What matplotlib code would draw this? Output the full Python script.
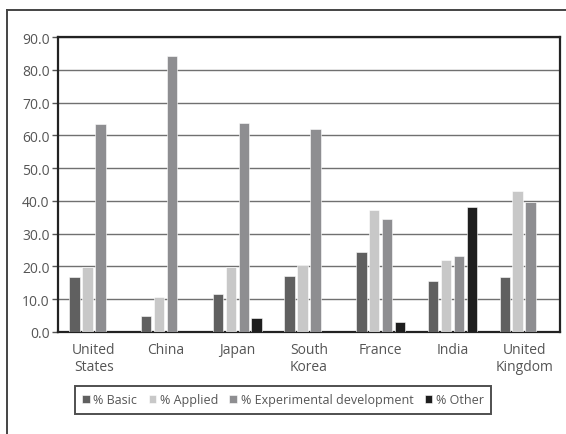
import matplotlib.pyplot as plt
import numpy as np
from matplotlib.lines import Line2D

countries = ['United\nStates', 'China', 'Japan', 'South\nKorea', 'France', 'India', 'United\nKingdom']
basic = [16.7, 5.0, 11.6, 17.0, 24.5, 15.7, 16.7]
applied = [19.7, 10.8, 19.9, 20.4, 37.3, 22.1, 42.9]
experimental = [63.4, 84.3, 63.7, 61.9, 34.5, 23.1, 39.6]
other = [0.0, 0.0, 4.2, 0.0, 3.1, 38.1, 0.0]

series = [
    ('% Basic', basic, '#606060'),
    ('% Applied', applied, '#c8c8c8'),
    ('% Experimental development', experimental, '#8e8e91'),
    ('% Other', other, '#1e1e1e'),
]

plt.rcParams['font.family'] = ['Open Sans', 'DejaVu Sans']

fig = plt.figure(figsize=(5.66, 4.35), dpi=100)
ax = fig.add_axes([58 / 566, 1 - 333 / 435, 502 / 566, 295 / 435])

x = np.arange(len(countries))
w = 0.145
step = 0.18
for i, (name, vals, col) in enumerate(series):
    ax.bar(x + (i - 1.5) * step, vals, width=w, color=col, label=name,
           edgecolor='white', linewidth=0.4, zorder=3)

ax.set_xlim(-0.5, len(countries) - 0.5)
ax.set_ylim(0, 90)
ax.set_yticks(np.arange(0, 91, 10))
ax.set_yticklabels([f'{v:.1f}' for v in np.arange(0, 91, 10)])
ax.set_xticks(x)
ax.set_xticklabels(countries, linespacing=1.25)
ax.tick_params(axis='y', labelsize=10, colors='#555555', length=4, width=1, pad=2)
ax.tick_params(axis='x', labelsize=10, colors='#555555', length=0, pad=7)
for t in ax.get_yticklines():
    t.set_color('#555555')

ax.grid(axis='y', color='#707070', linewidth=1.0, zorder=0)
for s in ax.spines.values():
    s.set_linewidth(1.6)
    s.set_color('#222222')

leg = ax.legend(loc='center', bbox_to_anchor=(283 / 566, 1 - 401 / 435),
                bbox_transform=fig.transFigure, ncol=4, frameon=True,
                fancybox=False, fontsize=9, handlelength=0.6, handleheight=0.6,
                handletextpad=0.3, columnspacing=0.9, borderpad=0.6,
                labelcolor='#555555')
leg.get_frame().set_edgecolor('#222222')
leg.get_frame().set_linewidth(1.4)

# outer border of the figure panel
fig.add_artist(Line2D([7 / 566, 7 / 566], [0, 1 - 11 / 435], transform=fig.transFigure,
                      color='#444444', linewidth=1.4))
fig.add_artist(Line2D([7 / 566, 1], [1 - 11 / 435, 1 - 11 / 435], transform=fig.transFigure,
                      color='#444444', linewidth=1.4))

fig.savefig('out.png', dpi=100)
